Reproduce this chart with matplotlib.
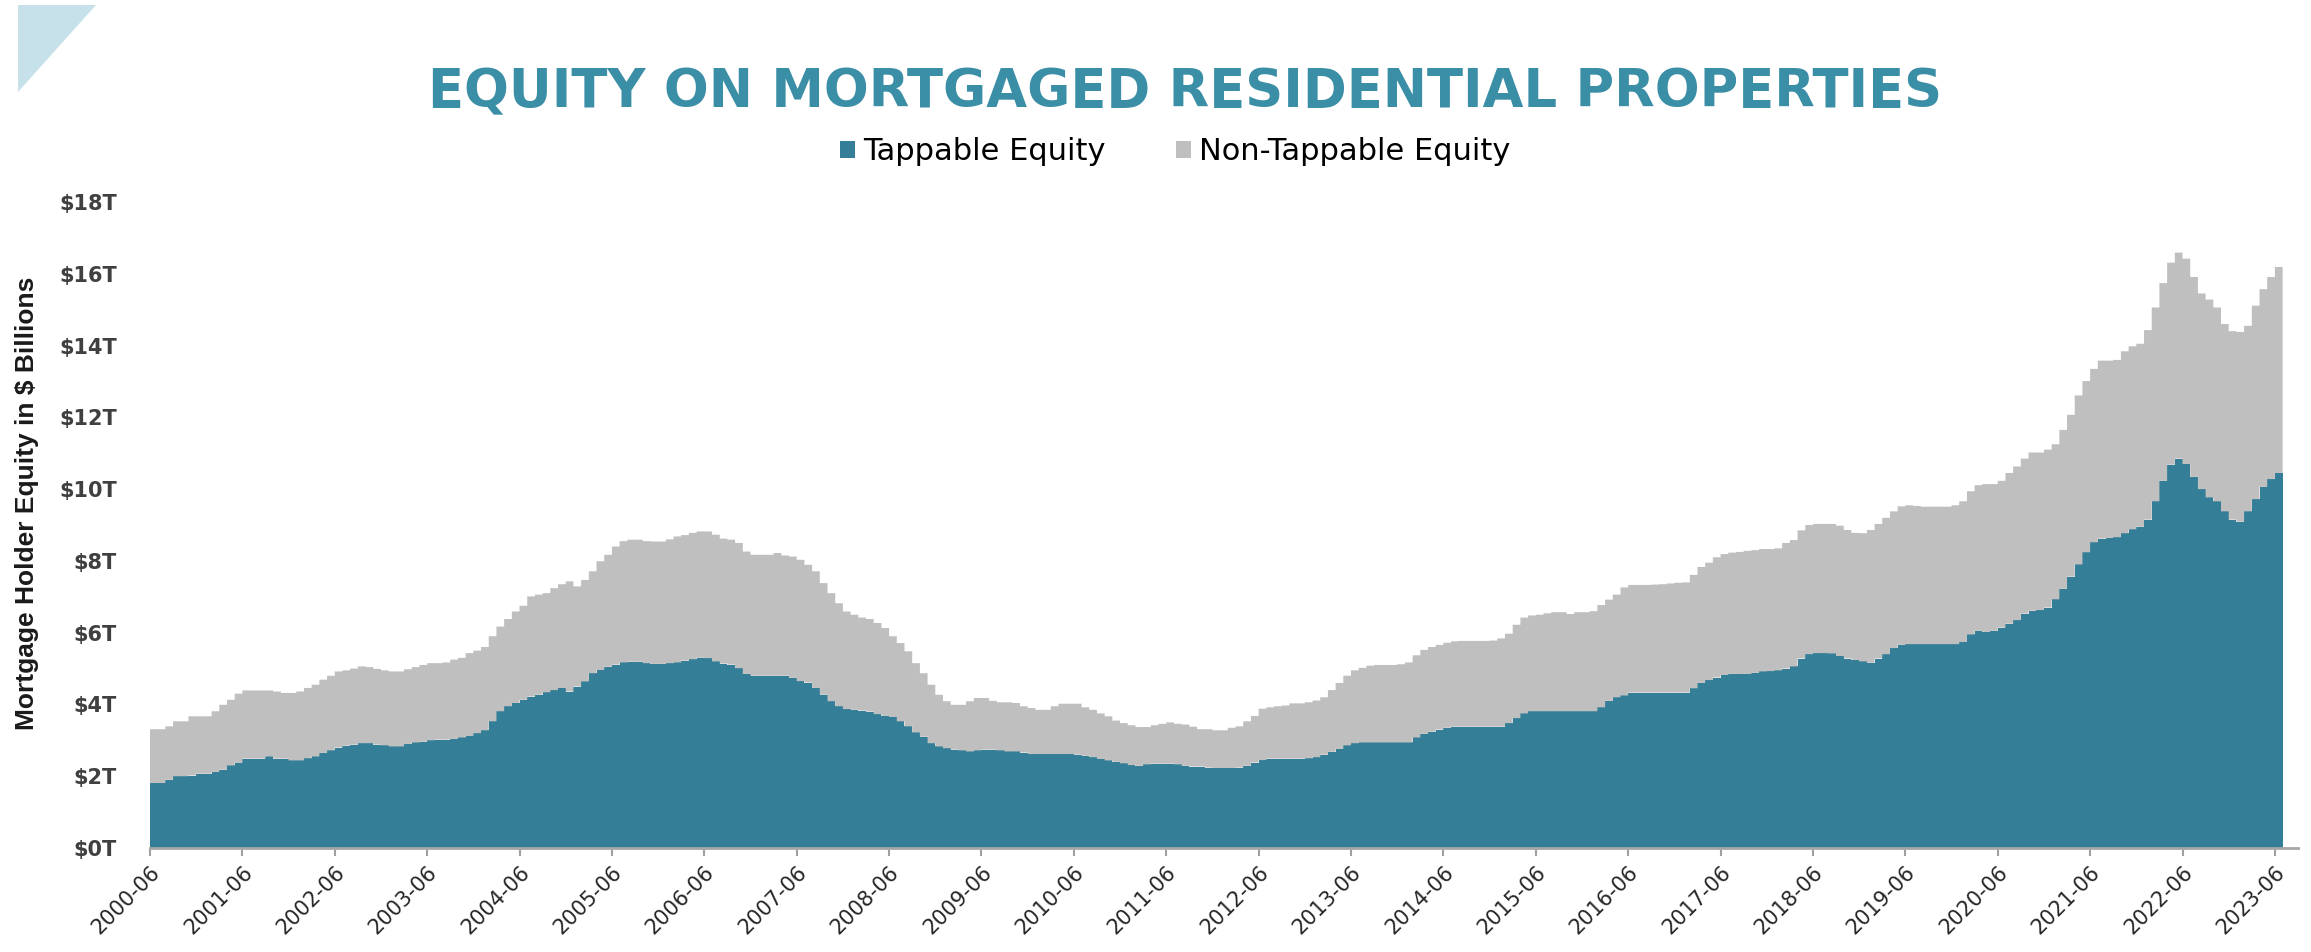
import numpy as np
import matplotlib
matplotlib.use("Agg")
import matplotlib.pyplot as plt
from matplotlib.patches import Patch, Polygon

# monthly values, 2000-06 .. 2023-06, in $ trillions
total_equity = [
    3.31, 3.31, 3.39, 3.53, 3.53, 3.67, 3.67, 3.67, 3.81, 3.99, 4.13, 4.30,
    4.39, 4.39, 4.39, 4.39, 4.36, 4.32, 4.32, 4.36, 4.46, 4.55, 4.69, 4.80,
    4.92, 4.95, 5.00, 5.06, 5.04, 4.99, 4.95, 4.92, 4.92, 4.98, 5.04, 5.10,
    5.15, 5.15, 5.17, 5.25, 5.30, 5.43, 5.50, 5.60, 5.90, 6.17, 6.38, 6.59,
    6.75, 7.01, 7.06, 7.10, 7.24, 7.35, 7.43, 7.29, 7.47, 7.71, 7.99, 8.17,
    8.40, 8.55, 8.59, 8.59, 8.55, 8.54, 8.54, 8.60, 8.68, 8.72, 8.78, 8.82,
    8.82, 8.73, 8.62, 8.59, 8.50, 8.26, 8.17, 8.17, 8.17, 8.22, 8.15, 8.12,
    8.03, 7.89, 7.71, 7.38, 7.10, 6.82, 6.59, 6.50, 6.42, 6.38, 6.27, 6.13,
    5.90, 5.71, 5.48, 5.15, 4.87, 4.55, 4.27, 4.09, 3.99, 3.99, 4.09, 4.18,
    4.18, 4.10, 4.06, 4.06, 4.04, 3.95, 3.90, 3.85, 3.85, 3.95, 4.02, 4.02,
    4.02, 3.92, 3.85, 3.75, 3.67, 3.55, 3.48, 3.42, 3.37, 3.37, 3.42, 3.46,
    3.50, 3.46, 3.44, 3.38, 3.31, 3.31, 3.28, 3.28, 3.35, 3.39, 3.53, 3.68,
    3.88, 3.92, 3.95, 3.97, 4.03, 4.03, 4.06, 4.11, 4.20, 4.40, 4.60, 4.80,
    4.95, 5.02, 5.08, 5.10, 5.10, 5.10, 5.12, 5.17, 5.37, 5.52, 5.60, 5.66,
    5.72, 5.76, 5.77, 5.77, 5.77, 5.77, 5.78, 5.84, 5.97, 6.22, 6.42, 6.48,
    6.50, 6.54, 6.57, 6.57, 6.52, 6.57, 6.57, 6.60, 6.77, 6.92, 7.06, 7.26,
    7.33, 7.33, 7.33, 7.34, 7.35, 7.37, 7.39, 7.40, 7.61, 7.83, 7.95, 8.10,
    8.19, 8.23, 8.25, 8.28, 8.30, 8.33, 8.33, 8.35, 8.50, 8.58, 8.85, 9.00,
    9.03, 9.03, 9.03, 8.98, 8.86, 8.78, 8.77, 8.86, 9.03, 9.20, 9.38, 9.52,
    9.55, 9.53, 9.51, 9.51, 9.51, 9.51, 9.55, 9.66, 9.94, 10.11, 10.14, 10.14,
    10.23, 10.45, 10.63, 10.85, 11.02, 11.02, 11.10, 11.25, 11.65, 12.07, 12.61, 13.01,
    13.35, 13.58, 13.58, 13.60, 13.84, 13.98, 14.05, 14.43, 15.06, 15.74, 16.31, 16.59,
    16.42, 15.91, 15.45, 15.28, 15.06, 14.60, 14.40, 14.38, 14.55, 15.11, 15.57, 15.91,
    16.19,
]

tappable_equity = [
    1.81, 1.81, 1.90, 2.00, 2.00, 2.02, 2.07, 2.07, 2.12, 2.18, 2.30, 2.37,
    2.49, 2.49, 2.49, 2.55, 2.49, 2.49, 2.44, 2.44, 2.50, 2.55, 2.65, 2.72,
    2.80, 2.85, 2.88, 2.92, 2.92, 2.88, 2.86, 2.83, 2.83, 2.90, 2.94, 2.96,
    3.00, 3.02, 3.02, 3.04, 3.08, 3.12, 3.20, 3.28, 3.53, 3.81, 3.95, 4.04,
    4.13, 4.22, 4.27, 4.34, 4.40, 4.46, 4.36, 4.50, 4.64, 4.87, 4.96, 5.05,
    5.11, 5.17, 5.19, 5.19, 5.15, 5.13, 5.13, 5.15, 5.17, 5.22, 5.26, 5.30,
    5.29, 5.20, 5.14, 5.11, 5.01, 4.85, 4.80, 4.80, 4.80, 4.80, 4.80, 4.74,
    4.65, 4.61, 4.46, 4.27, 4.09, 3.95, 3.87, 3.85, 3.83, 3.80, 3.73, 3.68,
    3.65, 3.53, 3.39, 3.22, 3.10, 2.92, 2.83, 2.78, 2.74, 2.72, 2.69, 2.72,
    2.74, 2.74, 2.72, 2.69, 2.69, 2.66, 2.62, 2.62, 2.62, 2.62, 2.62, 2.62,
    2.60, 2.57, 2.53, 2.48, 2.44, 2.40, 2.36, 2.31, 2.29, 2.33, 2.35, 2.35,
    2.35, 2.33, 2.29, 2.27, 2.27, 2.24, 2.23, 2.23, 2.23, 2.24, 2.29, 2.38,
    2.45, 2.49, 2.49, 2.49, 2.49, 2.49, 2.50, 2.53, 2.60, 2.68, 2.76, 2.86,
    2.92, 2.94, 2.94, 2.94, 2.94, 2.94, 2.94, 2.94, 3.08, 3.18, 3.24, 3.30,
    3.35, 3.38, 3.38, 3.38, 3.38, 3.38, 3.38, 3.38, 3.48, 3.62, 3.75, 3.81,
    3.81, 3.81, 3.81, 3.81, 3.81, 3.81, 3.81, 3.81, 3.92, 4.10, 4.20, 4.25,
    4.33, 4.33, 4.33, 4.33, 4.33, 4.33, 4.33, 4.33, 4.45, 4.60, 4.68, 4.75,
    4.82, 4.85, 4.85, 4.85, 4.88, 4.92, 4.93, 4.95, 5.00, 5.06, 5.28, 5.40,
    5.43, 5.43, 5.42, 5.35, 5.28, 5.24, 5.20, 5.16, 5.28, 5.40, 5.57, 5.66,
    5.68, 5.68, 5.68, 5.68, 5.68, 5.68, 5.68, 5.74, 5.95, 6.05, 6.02, 6.05,
    6.14, 6.25, 6.35, 6.53, 6.61, 6.63, 6.70, 6.93, 7.22, 7.56, 7.90, 8.24,
    8.52, 8.62, 8.64, 8.66, 8.77, 8.88, 8.95, 9.15, 9.66, 10.23, 10.68, 10.85,
    10.70, 10.34, 10.00, 9.77, 9.66, 9.38, 9.15, 9.09, 9.38, 9.72, 10.06, 10.28,
    10.45,
]

year_labels = ['2000-06', '2001-06', '2002-06', '2003-06', '2004-06', '2005-06',
               '2006-06', '2007-06', '2008-06', '2009-06', '2010-06', '2011-06',
               '2012-06', '2013-06', '2014-06', '2015-06', '2016-06', '2017-06',
               '2018-06', '2019-06', '2020-06', '2021-06', '2022-06', '2023-06']
y_values = [0, 2, 4, 6, 8, 10, 12, 14, 16, 18]
y_labels = ['$0T', '$2T', '$4T', '$6T', '$8T', '$10T', '$12T', '$14T', '$16T', '$18T']

teal = '#347f97'
grey = '#bfbfbf'
title_col = '#3a8ea6'

tappable = np.array(tappable_equity)
total = np.array(total_equity)
edges = np.arange(len(total) + 1)

W, H = 2311, 952
fig = plt.figure(figsize=(W / 100, H / 100), dpi=100)

# corner decoration
fig.patches.append(Polygon([(18 / W, 1 - 5 / H), (96 / W, 1 - 5 / H), (18 / W, 1 - 92 / H)],
                           closed=True, transform=fig.transFigure,
                           facecolor='#c6e1e9', edgecolor='none'))

ax = fig.add_axes([150 / W, (H - 848) / H, (2298 - 150) / W, (848 - 202) / H])

ax.stairs(tappable, edges, baseline=0, fill=True, color=teal, linewidth=0)
ax.stairs(total, edges, baseline=tappable, fill=True, color=grey, linewidth=0)

ax.set_xlim(0, 279)
ax.set_ylim(0, 18)

ax.set_xticks(np.arange(len(year_labels)) * 12)
ax.set_xticklabels(year_labels, rotation=45, ha='right', rotation_mode='anchor',
                   fontsize=15, color='#262626')
ax.set_yticks(y_values)
ax.set_yticklabels(y_labels, fontsize=15, fontweight='bold', color='#404040')

ax.tick_params(axis='x', length=6, width=1.5, color='#a0a0a0', pad=4)
ax.tick_params(axis='y', length=0, pad=24)

for side in ['top', 'right', 'left']:
    ax.spines[side].set_visible(False)
ax.spines['bottom'].set_color('#a6a6a6')
ax.spines['bottom'].set_linewidth(2)

fig.text(27 / W, 1 - 503 / H, 'Mortgage Holder Equity in $ Billions', rotation=90,
         ha='center', va='center', fontsize=19, fontweight='bold', color='#1a1a1a',
         family=['Liberation Sans Narrow', 'Liberation Sans'])

fig.text(1185 / W, 1 - 92 / H, 'EQUITY ON MORTGAGED RESIDENTIAL PROPERTIES',
         ha='center', va='center', fontsize=38, fontweight='bold', color=title_col,
         family=['DejaVu Sans'])

handles = [Patch(facecolor=teal, edgecolor='none', label='Tappable Equity'),
           Patch(facecolor=grey, edgecolor='none', label='Non-Tappable Equity')]
fig.legend(handles=handles, loc='center', bbox_to_anchor=(1175 / W, 1 - 152 / H),
           ncol=2, frameon=False, handlelength=0.5, handleheight=0.5,
           handletextpad=0.25, columnspacing=2.3,
           prop={'family': 'DejaVu Sans', 'size': 22})

fig.savefig('out.png', dpi=100, facecolor='white')
